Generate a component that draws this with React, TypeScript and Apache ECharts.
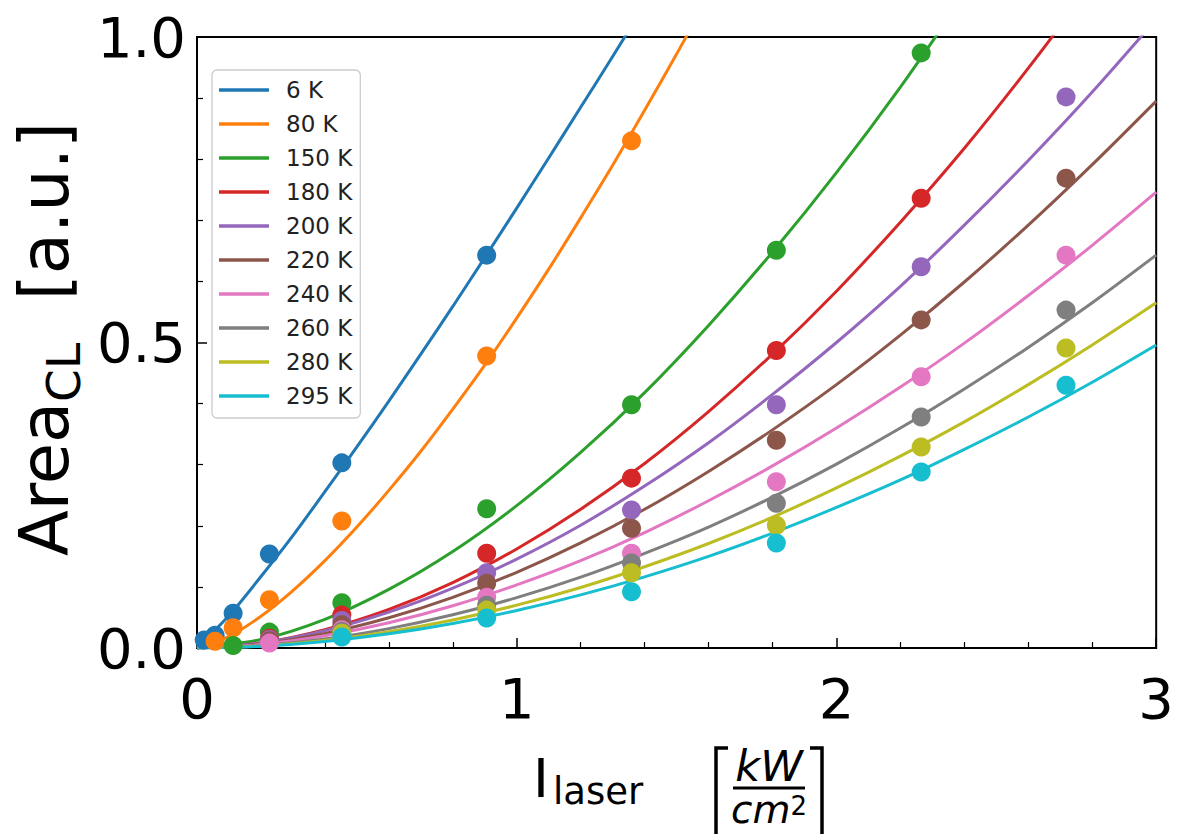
import React, { useEffect, useRef } from 'react';
import * as echarts from 'echarts';

const FONT = 'DejaVu Sans';

const temps = ['6 K', '80 K', '150 K', '180 K', '200 K', '220 K', '240 K', '260 K', '280 K', '295 K'];
const colors = ['#1f77b4', '#ff7f0e', '#2ca02c', '#d62728', '#9467bd', '#8c564b', '#e377c2', '#7f7f7f', '#bcbd22', '#17becf'];

// measured laser intensities (kW/cm^2)
const xMeasured = [0.0226, 0.0566, 0.113, 0.2265, 0.453, 0.906, 1.359, 1.812, 2.265, 2.718];

// measured CL areas (a.u.), one array per temperature (null = no point)
const pts6K = [0.013, 0.021, 0.057, 0.154, 0.303, 0.643];
const pts80K = [null, 0.011, 0.033, 0.079, 0.208, 0.478, 0.83];
const pts150K = [null, null, 0.004, 0.026, 0.074, 0.228, 0.398, 0.651, 0.974];
const pts180K = [null, null, null, 0.016, 0.054, 0.155, 0.278, 0.487, 0.736];
const pts200K = [null, null, null, 0.014, 0.045, 0.123, 0.226, 0.398, 0.624, 0.902];
const pts220K = [null, null, null, 0.012, 0.038, 0.106, 0.196, 0.34, 0.537, 0.769];
const pts240K = [null, null, null, 0.008, 0.03, 0.083, 0.155, 0.272, 0.444, 0.643];
const pts260K = [null, null, null, null, 0.027, 0.07, 0.139, 0.237, 0.378, 0.553];
const pts280K = [null, null, null, null, 0.024, 0.062, 0.123, 0.201, 0.329, 0.491];
const pts295K = [null, null, null, null, 0.018, 0.049, 0.092, 0.172, 0.288, 0.43];

// fit curves
const fitXFine = [0, 0.1, 0.2, 0.3, 0.4, 0.5, 0.6, 0.7, 0.8, 0.9, 1.0, 1.1, 1.2, 1.3, 1.4, 1.5, 1.6];
const fitX = [0, 0.2, 0.4, 0.6, 0.8, 1.0, 1.2, 1.4, 1.6, 1.8, 2.0, 2.2, 2.4, 2.6, 2.8, 3.0];

const fit6K = [0, 0.053, 0.117, 0.184, 0.256, 0.329, 0.404, 0.481, 0.559, 0.639, 0.72, 0.802, 0.885, 0.968, 1.053];
const fit80K = [0, 0.019, 0.052, 0.094, 0.143, 0.198, 0.258, 0.322, 0.391, 0.463, 0.54, 0.62, 0.704, 0.79, 0.88, 0.972, 1.067];
const fit150K = [0, 0.014, 0.047, 0.096, 0.158, 0.233, 0.32, 0.418, 0.528, 0.648, 0.778, 0.918, 1.069];
const fit180K = [0, 0.0083, 0.03, 0.063, 0.107, 0.162, 0.227, 0.302, 0.387, 0.481, 0.584, 0.697, 0.818, 0.949, 1.088];
const fit200K = [0, 0.0083, 0.0285, 0.0586, 0.0979, 0.1456, 0.201, 0.265, 0.336, 0.415, 0.5, 0.592, 0.692, 0.798, 0.91, 1.029];
const fit220K = [0, 0.0068, 0.0238, 0.0494, 0.0829, 0.1239, 0.172, 0.227, 0.289, 0.357, 0.431, 0.512, 0.599, 0.692, 0.791, 0.895];
const fit240K = [0, 0.0057, 0.0199, 0.0412, 0.0691, 0.1033, 0.143, 0.189, 0.241, 0.298, 0.36, 0.427, 0.499, 0.577, 0.659, 0.746];
const fit260K = [0, 0.0041, 0.0148, 0.0317, 0.0543, 0.0824, 0.116, 0.155, 0.198, 0.247, 0.301, 0.36, 0.424, 0.492, 0.565, 0.643];
const fit280K = [0, 0.0033, 0.0123, 0.0266, 0.0459, 0.0701, 0.0991, 0.133, 0.171, 0.214, 0.262, 0.314, 0.37, 0.431, 0.496, 0.565];
const fit295K = [0, 0.0029, 0.0108, 0.0233, 0.0402, 0.0615, 0.087, 0.1165, 0.15, 0.188, 0.23, 0.275, 0.325, 0.378, 0.435, 0.496];

const points = [pts6K, pts80K, pts150K, pts180K, pts200K, pts220K, pts240K, pts260K, pts280K, pts295K];
const fits = [fit6K, fit80K, fit150K, fit180K, fit200K, fit220K, fit240K, fit260K, fit280K, fit295K];
const fitXs = [fitXFine, fitXFine, fitX, fitX, fitX, fitX, fitX, fitX, fitX, fitX];

export default function App() {
  const ref = useRef<HTMLDivElement>(null);

  useEffect(() => {
    document.body.style.margin = '0';
    if (!ref.current) return;
    const chart = echarts.init(ref.current, undefined, { renderer: 'svg' });

    const series: any[] = [];
    temps.forEach((name, i) => {
      const pts: number[][] = [];
      points[i].forEach((y, j) => {
        if (y !== null && y !== undefined) pts.push([xMeasured[j], y as number]);
      });
      series.push({
        type: 'scatter',
        name,
        data: pts,
        symbol: 'circle',
        symbolSize: 19,
        itemStyle: { color: colors[i], opacity: 1 },
        z: 2,
      });
      series.push({
        type: 'line',
        name,
        data: fits[i].map((y, j) => [fitXs[i][j], y]),
        symbol: 'none',
        showSymbol: false,
        smooth: 0.3,
        clip: true,
        lineStyle: { color: colors[i], width: 3 },
        itemStyle: { color: colors[i] },
        z: 2,
      });
    });

    const axisCommon = {
      type: 'value',
      splitLine: { show: false },
      axisLine: { show: false },
      axisTick: { show: true, inside: true, length: 10, lineStyle: { color: '#000', width: 1.5 } },
      minorTick: { show: true, splitNumber: 5, length: 6, lineStyle: { color: '#000', width: 1.2 } },
      minorSplitLine: { show: false },
    };

    chart.setOption({
      animation: false,
      backgroundColor: '#ffffff',
      grid: {
        left: 197,
        top: 37,
        width: 960,
        height: 611,
        show: true,
        borderColor: '#000',
        borderWidth: 2,
        backgroundColor: 'transparent',
      },
      xAxis: {
        ...axisCommon,
        min: 0,
        max: 3,
        interval: 1,
        axisLabel: {
          fontSize: 56,
          fontFamily: FONT,
          color: '#000',
          margin: 22,
          formatter: (v: number) => String(Math.round(v)),
        },
      },
      yAxis: {
        ...axisCommon,
        min: 0,
        max: 1,
        interval: 0.5,
        axisLabel: {
          fontSize: 56,
          fontFamily: FONT,
          color: '#000',
          margin: 11,
          formatter: (v: number) => v.toFixed(1),
        },
      },
      legend: {
        data: temps,
        orient: 'vertical',
        left: 212,
        top: 70,
        icon: 'rect',
        itemWidth: 50,
        itemHeight: 3.5,
        itemGap: 10,
        padding: [8, 8, 10, 7],
        backgroundColor: 'rgba(255,255,255,0.8)',
        borderColor: '#cccccc',
        borderWidth: 1.3,
        borderRadius: 5,
        selectedMode: false,
        textStyle: {
          fontSize: 23,
          lineHeight: 24,
          fontFamily: FONT,
          color: '#222',
          padding: [0, 0, 0, 12],
        },
      },
      graphic: [
        {
          type: 'text',
          x: 45,
          y: 339,
          rotation: Math.PI / 2,
          style: {
            text: '{a|Area}{s|CL}{a|  [a.u.]}',
            align: 'center',
            verticalAlign: 'middle',
            fill: '#000',
            rich: {
              a: { fontSize: 67, lineHeight: 84, fontFamily: FONT, fill: '#000', color: '#000' },
              s: { fontSize: 47, lineHeight: 47, verticalAlign: 'bottom', fontFamily: FONT, fill: '#000', color: '#000' },
            },
          },
        },
        {
          type: 'text',
          x: 533,
          y: 778,
          style: {
            text: '{m|I}{s|laser}',
            align: 'left',
            verticalAlign: 'middle',
            fill: '#000',
            rich: {
              m: { fontSize: 54, lineHeight: 64, fontFamily: FONT, fill: '#000', color: '#000', padding: [0, 4, 0, 0] },
              s: { fontSize: 37, lineHeight: 37, verticalAlign: 'bottom', fontFamily: FONT, fill: '#000', color: '#000' },
            },
          },
        },
        {
          type: 'polyline',
          shape: { points: [[728, 748], [716, 748], [716, 846], [728, 846]] },
          style: { stroke: '#000', lineWidth: 3.5, fill: 'none' },
        },
        {
          type: 'polyline',
          shape: { points: [[810, 748], [822, 748], [822, 846], [810, 846]] },
          style: { stroke: '#000', lineWidth: 3.5, fill: 'none' },
        },
        {
          type: 'line',
          shape: { x1: 733, y1: 788, x2: 805, y2: 788 },
          style: { stroke: '#000', lineWidth: 3 },
        },
        {
          type: 'text',
          x: 769,
          y: 766,
          style: {
            text: 'kW',
            align: 'center',
            verticalAlign: 'middle',
            fill: '#000',
            font: `italic 43px "${FONT}"`,
          },
        },
        {
          type: 'text',
          x: 769,
          y: 793,
          style: {
            text: '{i|cm}{p|2}',
            align: 'center',
            verticalAlign: 'top',
            fill: '#000',
            rich: {
              i: { fontSize: 39, lineHeight: 32, fontStyle: 'italic', fontFamily: FONT, fill: '#000', color: '#000' },
              p: { fontSize: 26, lineHeight: 20, verticalAlign: 'top', fontFamily: FONT, fill: '#000', color: '#000' },
            },
          },
        },
      ],
      series,
    });

    return () => {
      chart.dispose();
    };
  }, []);

  return <div ref={ref} style={{ width: 1177, height: 834 }} />;
}
